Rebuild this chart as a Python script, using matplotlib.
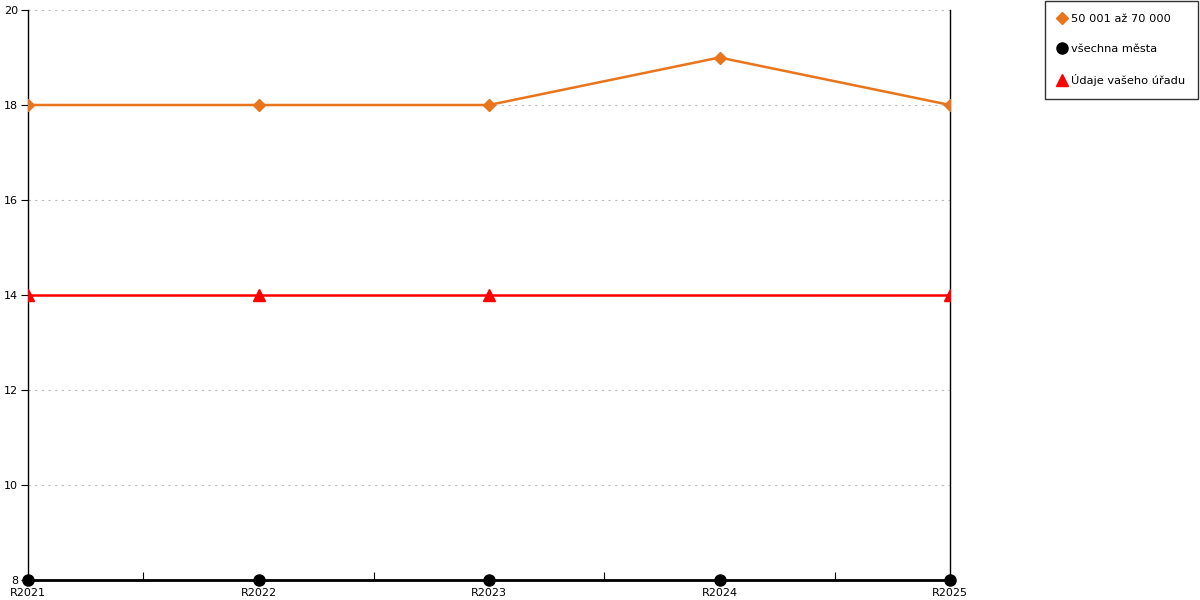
import matplotlib.pyplot as plt
from matplotlib.ticker import MultipleLocator

roky = ["R2021", "R2022", "R2023", "R2024", "R2025"]
skupina = [18, 18, 18, 19, 18]
vsechna_mesta = [8, 8, 8, 8, 8]
vas_urad = [14, 14, 14, 14, 14]
urad_body = [0, 1, 2, 4]

plt.rcParams['font.family'] = ['DejaVu Sans']
fig = plt.figure(figsize=(12, 6), dpi=100)
ax = fig.add_axes([28 / 1200, 20 / 600, 922 / 1200, 570 / 600])

x = list(range(len(roky)))
ax.plot(x, skupina, color="#e8741c", lw=1.8, marker="D", ms=6, mec="#e8741c", zorder=3)
ax.plot(x, vas_urad, color="#ff0000", lw=1.8, marker="^", ms=8, markevery=urad_body, zorder=3)
ax.plot(x, vsechna_mesta, color="black", lw=2, marker="o", ms=8, zorder=4, clip_on=False)

ax.set_xlim(0, 4)
ax.set_ylim(8, 20)
ax.yaxis.set_major_locator(MultipleLocator(2))
ax.set_xticks(x)
ax.set_xticklabels(roky, fontsize=8)
ax.set_xticks([0.5, 1.5, 2.5, 3.5], minor=True)
ax.tick_params(axis="x", which="major", length=0, pad=6)
ax.tick_params(axis="x", which="minor", length=6, direction="in", width=0.8)
ax.tick_params(axis="y", length=5, width=0.8, labelsize=8, pad=2)
ax.grid(axis="y", color="#bbbbbb", linestyle=(0, (2, 4)), lw=0.8)

ax.spines["top"].set_visible(False)
for s in ["left", "right", "bottom"]:
    ax.spines[s].set_color("black")
    ax.spines[s].set_linewidth(1)

h1 = plt.Line2D([], [], color="#e8741c", marker="D", ls="", ms=6)
h2 = plt.Line2D([], [], color="black", marker="o", ls="", ms=8)
h3 = plt.Line2D([], [], color="#ff0000", marker="^", ls="", ms=8)
leg = fig.legend([h1, h2, h3], ["50 001 až 70 000", "všechna města", "Údaje vašeho úřadu"],
                 loc="upper right", bbox_to_anchor=(1198 / 1200, 599 / 600), fontsize=8.2,
                 frameon=True, fancybox=False, edgecolor="black", handlelength=0.7,
                 handletextpad=0.4, labelspacing=1.75, borderpad=1.15, borderaxespad=0)
leg.get_frame().set_linewidth(1)

fig.savefig("out.png", dpi=100)
